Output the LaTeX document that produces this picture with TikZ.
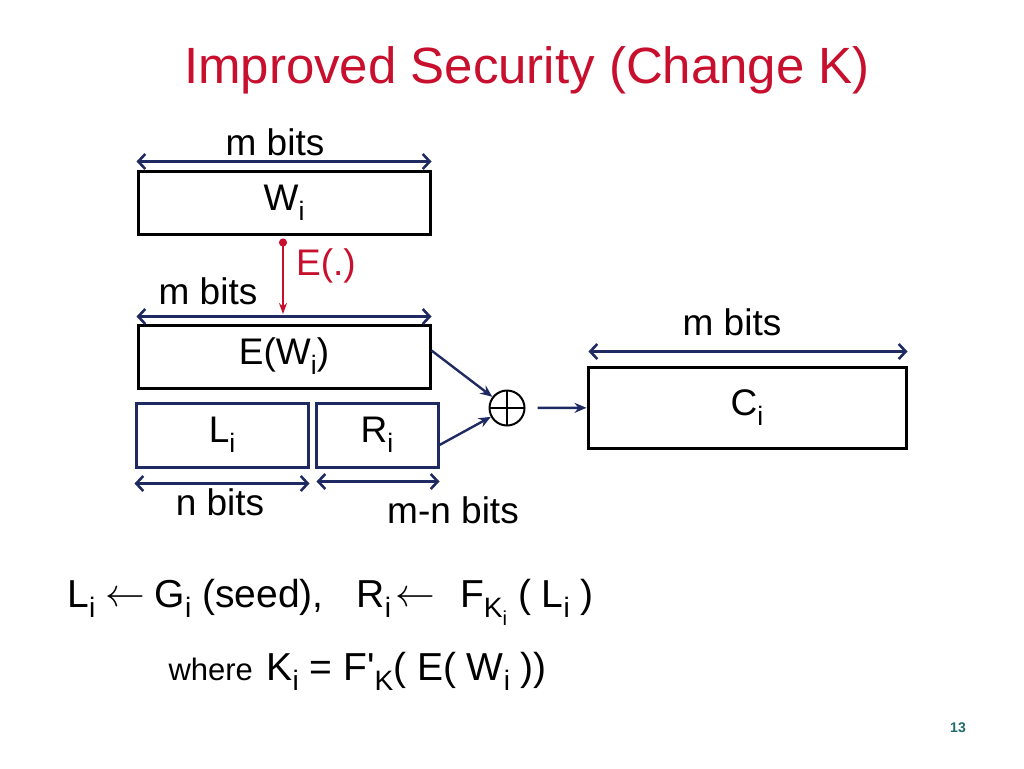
\documentclass[tikz,border=0pt]{standalone}
\usepackage{fontspec}
\usepackage{graphicx}
\setmainfont{Liberation Sans}
\usetikzlibrary{arrows.meta,positioning}

\definecolor{navy}{HTML}{1F2A63}
\definecolor{crimson}{HTML}{C8102E}
\definecolor{pagenum}{HTML}{1E6B6B}
\newcommand{\sbs}[1]{\raisebox{-0.27em}{\scalebox{0.72}{#1}}}
\newcommand{\larr}{\raisebox{0.02em}{\scalebox{1.6}{$\leftarrow$}}}

\begin{document}
\begin{tikzpicture}[x=1pt,y=-1pt,
	txt/.style={font=\fontsize{37}{44}\selectfont},
	formula/.style={font=\fontsize{39}{46}\selectfont,anchor=base west},
	blk/.style={draw,line width=3pt,txt,inner sep=0pt},
	dim/.style={navy,line width=2.6pt,{Straight Barb[length=7pt,width=15pt]}-{Straight Barb[length=7pt,width=15pt]}},
	flow/.style={navy,line width=2.4pt,-{Stealth[length=12pt,width=10pt]}}]
	\useasboundingbox (0,0) rectangle (1024,768);

	\node[font=\fontsize{51}{60}\selectfont,text=crimson,anchor=base] (title) at (527,83) {Improved Security (Change K)};

	\node[blk,minimum width=292pt,minimum height=63pt] (w) at (284,202.5) {W\sbs{i}};
	\node[blk,minimum width=292pt,minimum height=63pt] (e) at (284,356.5) {E(W\sbs{i})};
	\node[blk,draw=navy,minimum width=172pt,minimum height=64pt] (l) at (222,435) {L\sbs{i}};
	\node[blk,draw=navy,minimum width=122pt,minimum height=64pt] (r) at (377,435) {R\sbs{i}};
	\node[blk,minimum width=318pt,minimum height=81pt] (c) at (747,407.5) {C\sbs{i}};
	\node[draw,circle,line width=2pt,minimum size=35pt,inner sep=0pt,
		path picture={\draw[line width=2pt] (path picture bounding box.north) -- (path picture bounding box.south)
			(path picture bounding box.west) -- (path picture bounding box.east);}] (xor) at (507,408) {};

	% widths
	\draw[dim] ([yshift=8pt]w.north west) -- ([yshift=8pt]w.north east);
	\draw[dim] ([yshift=7pt]e.north west) -- ([yshift=7pt]e.north east);
	\draw[dim] ([yshift=-15pt]l.south west) -- ([yshift=-15pt]l.south east);
	\draw[dim] ([xshift=2pt,yshift=-13pt]r.south west) -- ([yshift=-13pt]r.south east);
	\draw[dim] ([xshift=2pt,yshift=14pt]c.north west) -- ([yshift=14pt]c.north east);
	\node[txt] (mw) at (275,142) {m bits};
	\node[txt] (me) at (208,291) {m bits};
	\node[txt] (mc) at (732,322) {m bits};
	\node[txt] (nl) at (220,502) {n bits};
	\node[txt] (nr) at (453,510) {m-n bits};

	% encoding
	\coordinate (etop) at (283,314);
	\draw[crimson,line width=2pt,{Circle[length=8pt]}-{Stealth[length=11pt,width=8pt]}] ([xshift=-1pt,yshift=-3pt]w.south) -- (etop);
	\node[txt,text=crimson] (enc) at (326,266) {E(.)};

	\draw[flow] ([yshift=6pt]e.east) -- (xor);
	\draw[flow] ([yshift=-10pt]r.east) -- (xor);
	\draw[flow,shorten <=12pt] (xor) -- (c);

	\node[formula] (f1) at (64,607) {L\sbs{i}\hspace{0.25em}\larr\hspace{0.25em}G\sbs{i} (seed),\hspace{0.85em}R\sbs{i}\hspace{0.1em}\larr\hspace{0.65em}F\sbs{K\sbs{i}} ( L\sbs{i} )};
	\node[formula] (f2) at (165,680) {{\fontsize{31}{36}\selectfont where}\hspace{0.35em}K\sbs{i} = F\textquotesingle\sbs{K}( E( W\sbs{i} ))};

	\node[font=\fontsize{14}{16}\selectfont\bfseries,text=pagenum] (page) at (958,728) {13};
\end{tikzpicture}
\end{document}
